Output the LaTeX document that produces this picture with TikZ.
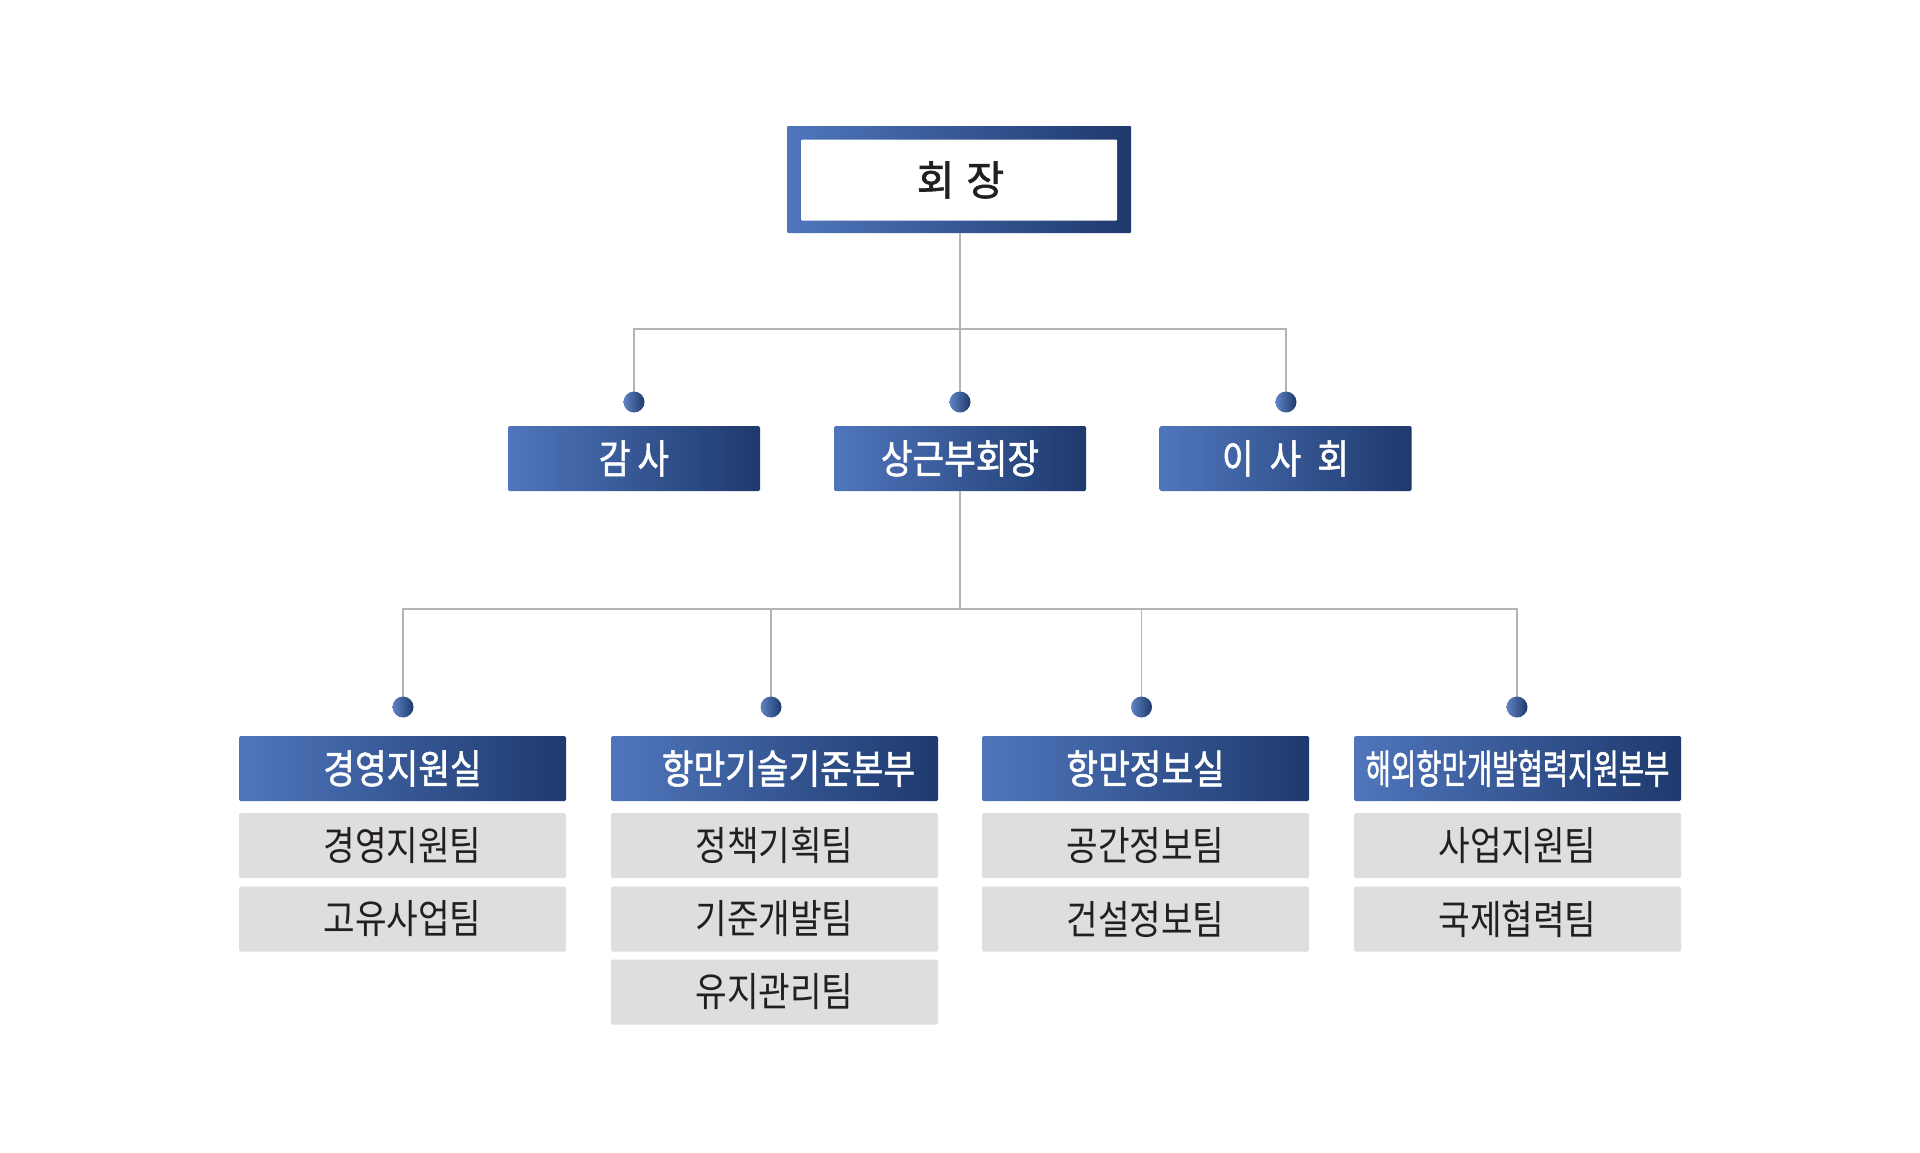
\documentclass[tikz,border=0pt]{standalone}
\usepackage{fontspec}
\newfontfamily\kr[FakeStretch=0.86]{Noto Sans CJK KR}
\newfontfamily\krmed[FakeStretch=0.86, FakeBold=1.3]{Noto Sans CJK KR}
\newfontfamily\krtop[FakeBold=1.5]{Noto Sans CJK KR}
\definecolor{bluel}{HTML}{4F76BC}
\definecolor{blued}{HTML}{1E396D}
\definecolor{greyb}{HTML}{DEDEDE}
\definecolor{linec}{HTML}{B4B4B4}
\definecolor{txt}{HTML}{231F20}
\tikzset{
  grad/.style={rectangle, left color=bluel, right color=blued, draw=none, inner sep=0pt, rounded corners=1.5pt},
  lvtwo/.style={grad, minimum width=252pt, minimum height=65pt, text=white, font=\krmed\fontsize{40}{40}\selectfont},
  head/.style={grad, minimum width=327pt, minimum height=65pt, text=white, font=\krmed\fontsize{40}{40}\selectfont},
  team/.style={rectangle, fill=greyb, draw=none, inner sep=0pt, rounded corners=1.5pt, minimum width=327pt, minimum height=65pt, text=txt, font=\kr\fontsize{40}{40}\selectfont},
  dotn/.style={circle, left color=bluel!90!white, right color=blued, draw=none, inner sep=0pt, minimum size=21pt},
  conn/.style={draw=linec, line width=1.3pt},
}
\begin{document}
\begin{tikzpicture}[x=1pt, y=-1pt]
\useasboundingbox (0,0) rectangle (1920,1152);
\fill[white] (0,0) rectangle (1920,1152);
% top
\node[grad, rounded corners=1pt, minimum width=344pt, minimum height=107pt] (top) at (959,179.5) {};
\node[rectangle, fill=white, inner sep=0pt, rounded corners=1pt, minimum width=316pt, minimum height=81pt, text=txt, font=\krtop\fontsize{41}{41}\selectfont] (toptext) at (959,180) {\hspace*{3pt}회\hspace{12pt}장};
% level 2
\node[lvtwo] (gamsa) at (634,458.5) {감\hspace{7pt}사};
\node[lvtwo] (vice) at (960,458.5) {상근부회장};
\node[lvtwo] (board) at (1285.5,458.5) {이\hspace{16pt}사\hspace{16pt}회};
% level 3 headers
\node[head] (h1) at (402.5,768.5) {경영지원실};
\node[head] (h2) at (774.5,768.5) {\hspace*{28pt}항만기술기준본부};
\node[head] (h3) at (1145.5,768.5) {항만정보실};
\node[head] (h4) at (1517.5,768.5) {\scalebox{0.8}[1]{해외항만개발협력지원본부}};
% teams
\node[team] (t11) at (402.5,845.5) {경영지원팀};
\node[team] (t12) at (402.5,919) {고유사업팀};
\node[team] (t21) at (774.5,845.5) {정책기획팀};
\node[team] (t22) at (774.5,919) {기준개발팀};
\node[team] (t23) at (774.5,992) {유지관리팀};
\node[team] (t31) at (1145.5,845.5) {공간정보팀};
\node[team] (t32) at (1145.5,919) {건설정보팀};
\node[team] (t41) at (1517.5,845.5) {사업지원팀};
\node[team] (t42) at (1517.5,919) {국제협력팀};
% junctions
\coordinate (j1) at (960,329);
\coordinate (j2) at (960,609);
% dots positions
\coordinate (p1) at (634,402);
\coordinate (p2) at (960,402);
\coordinate (p3) at (1286,402);
\coordinate (q1) at (403,707);
\coordinate (q2) at (771,707);
\coordinate (q3) at (1141.5,707);
\coordinate (q4) at (1517,707);
% connectors
\draw[conn] (top.south -| j1) -- (j1);
\draw[conn] (p1) |- (j1);
\draw[conn] (p3) |- (j1);
\draw[conn] (j1) -- (p2);
\draw[conn] (vice.south) -- (j2);
\draw[conn] (q1) |- (j2);
\draw[conn] (q2) |- (j2);
\draw[conn] (q3) |- (j2);
\draw[conn] (q4) |- (j2);
% dots
\node[dotn] (d1) at (p1) {};
\node[dotn] (d2) at (p2) {};
\node[dotn] (d3) at (p3) {};
\node[dotn] (e1) at (q1) {};
\node[dotn] (e2) at (q2) {};
\node[dotn] (e3) at (q3) {};
\node[dotn] (e4) at (q4) {};
\end{tikzpicture}
\end{document}
